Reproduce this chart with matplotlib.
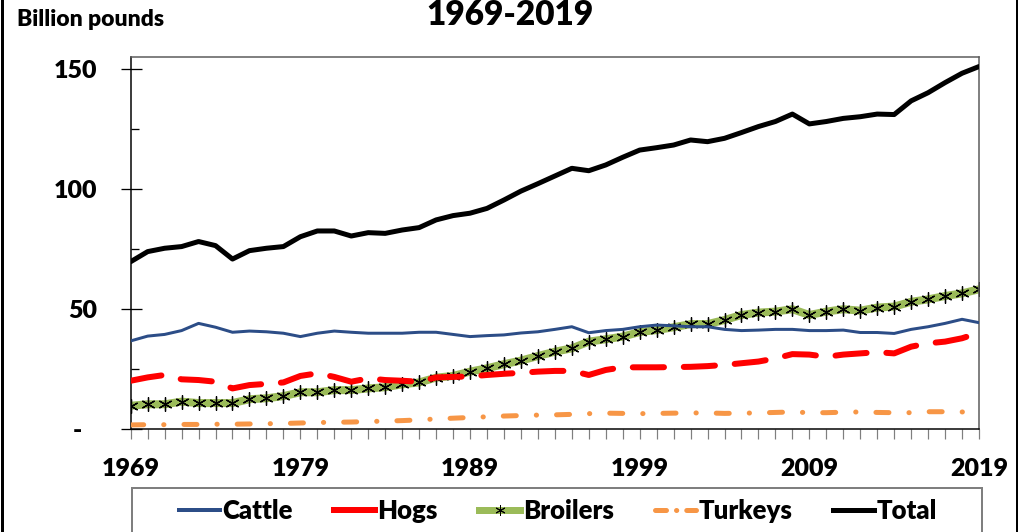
import numpy as np
import matplotlib
matplotlib.use("Agg")
import matplotlib.pyplot as plt
from matplotlib.lines import Line2D
from matplotlib.patches import Rectangle
from matplotlib.ticker import MultipleLocator, FixedLocator
from matplotlib.transforms import ScaledTranslation

plt.rcParams['font.family'] = ['Lato', 'DejaVu Sans']
WEIGHT = 'heavy'
plt.rcParams['font.weight'] = WEIGHT

years = list(range(1969, 2020))

cattle = [36.7, 38.7, 39.4, 41.0, 44.0, 42.4, 40.3, 40.8, 40.5, 39.9,
          38.5, 39.9, 40.8, 40.3, 39.9, 39.9, 39.9, 40.3, 40.3, 39.4,
          38.5, 38.9, 39.2, 40.0, 40.5, 41.5, 42.6, 40.1, 41.0, 41.5,
          42.6, 43.3, 43.0, 42.6, 42.6, 41.5, 41.0, 41.2, 41.5, 41.5,
          41.0, 41.0, 41.2, 40.2, 40.2, 39.8, 41.5, 42.6, 44.0, 45.7,
          44.3]
hogs = [20.1, 21.5, 22.5, 20.7, 20.4, 19.7, 16.9, 18.3, 18.8, 19.4,
        22.1, 23.2, 21.7, 19.7, 21.1, 20.4, 20.1, 19.7, 21.5, 21.7,
        21.9, 22.5, 23.0, 23.4, 23.9, 24.2, 24.2, 22.5, 24.6, 25.7,
        25.7, 25.7, 25.8, 25.9, 26.2, 26.7, 27.4, 28.1, 29.4, 31.2,
        31.0, 30.1, 31.0, 31.5, 32.0, 31.5, 34.3, 35.7, 36.4, 37.8,
        40.1]
broilers = [9.7, 10.3, 10.3, 11.4, 10.8, 10.8, 10.8, 12.4, 12.8, 13.7,
            15.3, 15.3, 16.2, 16.2, 16.9, 17.4, 18.6, 19.4, 21.4, 22.1,
            23.9, 25.3, 27.0, 28.5, 30.4, 32.2, 33.6, 36.4, 37.4, 38.5,
            40.4, 41.2, 42.4, 43.7, 43.7, 45.4, 47.5, 48.5, 48.9, 49.9,
            47.5, 48.9, 49.9, 49.3, 50.6, 51.0, 53.0, 54.0, 55.4, 56.5,
            58.2]
turkeys = [1.7, 1.8, 1.8, 1.9, 1.9, 2.0, 2.0, 2.1, 2.2, 2.3,
           2.5, 2.7, 2.8, 2.9, 3.1, 3.3, 3.5, 3.8, 4.2, 4.5,
           4.8, 5.1, 5.4, 5.6, 5.8, 5.9, 6.1, 6.4, 6.6, 6.5,
           6.4, 6.5, 6.6, 6.7, 6.7, 6.5, 6.6, 6.7, 6.9, 7.1,
           6.8, 6.8, 7.0, 7.1, 6.9, 6.8, 6.8, 7.2, 7.2, 7.1,
           7.1]
total = [69.7, 73.9, 75.3, 76.0, 78.1, 76.4, 70.8, 74.3, 75.3, 76.0,
         80.1, 82.5, 82.5, 80.4, 81.8, 81.5, 82.9, 83.9, 87.1, 88.9,
         89.9, 91.9, 95.4, 99.1, 102.2, 105.4, 108.6, 107.6, 110.0, 113.2,
         116.2, 117.2, 118.3, 120.4, 119.7, 121.1, 123.5, 126.0, 128.1, 131.2,
         127.1, 128.1, 129.4, 130.1, 131.2, 131.0, 136.7, 140.1, 144.3, 148.2,
         151.0]

x_labels = [1969, 1979, 1989, 1999, 2009, 2019]
y_labels = {0: "-", 50: "50", 100: "100", 150: "150"}

W, H = 1018, 532
fig = plt.figure(figsize=(W / 100, H / 100), dpi=100)
px = lambda v: v / 100 * 72  # pixels -> points

ax = fig.add_axes([130.7 / W, 1 - 429 / H, (979 - 130.7) / W, (429 - 56.7) / H])

c_cattle = '#2C4D87'
c_hogs = '#FF0000'
c_broil = '#9BBB59'
c_turk = '#F79646'

ax.plot(years, cattle, color=c_cattle, lw=px(3), solid_capstyle='round', zorder=3)
ax.plot(years, hogs, color=c_hogs, lw=px(6), dashes=(5.2, 3.3),
        dash_capstyle='round', zorder=3)
ax.plot(years, broilers, color=c_broil, lw=px(8), zorder=2,
        marker=(6, 2, 0), markersize=px(14), markeredgecolor='black',
        markerfacecolor='black', markeredgewidth=px(1.3))
ax.plot(years, turkeys, color=c_turk, lw=px(5), dashes=(2.6, 4, 0.05, 4),
        dash_capstyle='round', zorder=3)
ax.plot(years, total, color='black', lw=px(5), solid_capstyle='round',
        solid_joinstyle='round', zorder=4)

ax.set_xlim(1969, 2019)
ax.set_ylim(0, 155.1)

# x axis: a tick per year, labels each decade
ax.xaxis.set_major_locator(FixedLocator(x_labels))
ax.xaxis.set_minor_locator(MultipleLocator(1))
ax.set_xticklabels([str(v) for v in x_labels])
ax.tick_params(axis='x', which='both', direction='out', length=px(10),
               width=px(1.2), color='#7f7f7f', labelsize=18, pad=14)

# y axis
ax.yaxis.set_major_locator(FixedLocator(list(y_labels.keys())))
ax.yaxis.set_minor_locator(FixedLocator([25, 75, 125]))
ax.set_yticklabels(list(y_labels.values()))
ax.tick_params(axis='y', which='major', direction='inout', length=px(21),
               width=px(1.3), color='black', labelsize=18, pad=px(23))
ax.tick_params(axis='y', which='minor', direction='in', length=px(8),
               width=px(1.3), color='black')
dash_lab = ax.yaxis.get_major_ticks()[0].label1
dash_lab.set_transform(dash_lab.get_transform() + ScaledTranslation(-15 / 100, 0, fig.dpi_scale_trans))

for t in ax.get_xticklabels() + ax.get_yticklabels():
    t.set_fontweight(WEIGHT)

for s in ['left', 'bottom']:
    ax.spines[s].set_color('black')
    ax.spines[s].set_linewidth(px(1.5))
for s in ['top', 'right']:
    ax.spines[s].set_color('#595959')
    ax.spines[s].set_linewidth(px(1.5))

# titles
fig.text(510 / W, 1 - 15 / H, "1969-2019", ha='center', va='center',
         fontsize=24, fontweight=WEIGHT)
fig.text(17 / W, 1 - 19 / H, "Billion pounds", ha='left', va='center',
         fontsize=16.5, fontweight=WEIGHT)

# legend frame and entries
fig.patches.append(Rectangle((132 / W, -0.05), (982 - 132) / W, 0.05 + 1 - 488 / H,
                             transform=fig.transFigure, fill=False,
                             edgecolor='#7f7f7f', linewidth=px(2)))
handles = [
    Line2D([], [], color=c_cattle, lw=px(4)),
    Line2D([], [], color=c_hogs, lw=px(6)),
    Line2D([], [], color=c_broil, lw=px(7), marker=(6, 2, 0), markersize=px(10),
           markeredgecolor='black', markeredgewidth=px(1)),
    Line2D([], [], color=c_turk, lw=px(5), dashes=(2.2, 2, 0.05, 2), dash_capstyle='round'),
    Line2D([], [], color='black', lw=px(5)),
]
labels = ["Cattle", "Hogs", "Broilers", "Turkeys", "Total"]
leg = fig.legend(handles, labels, loc='center', bbox_to_anchor=(558 / W, 1 - 511 / H),
                 ncol=5, frameon=False, fontsize=18.5, handlelength=1.6,
                 handletextpad=0.1, columnspacing=1.6, borderaxespad=0, borderpad=0)
for t in leg.get_texts():
    t.set_fontweight(WEIGHT)

# outer chart border (left and right edges)
fig.lines.append(Line2D([1.5 / W, 1.5 / W], [0, 1], transform=fig.transFigure,
                        color='black', lw=px(3)))
fig.lines.append(Line2D([1016.5 / W, 1016.5 / W], [0, 1], transform=fig.transFigure,
                        color='black', lw=px(2)))

fig.savefig("out.png", dpi=100)
